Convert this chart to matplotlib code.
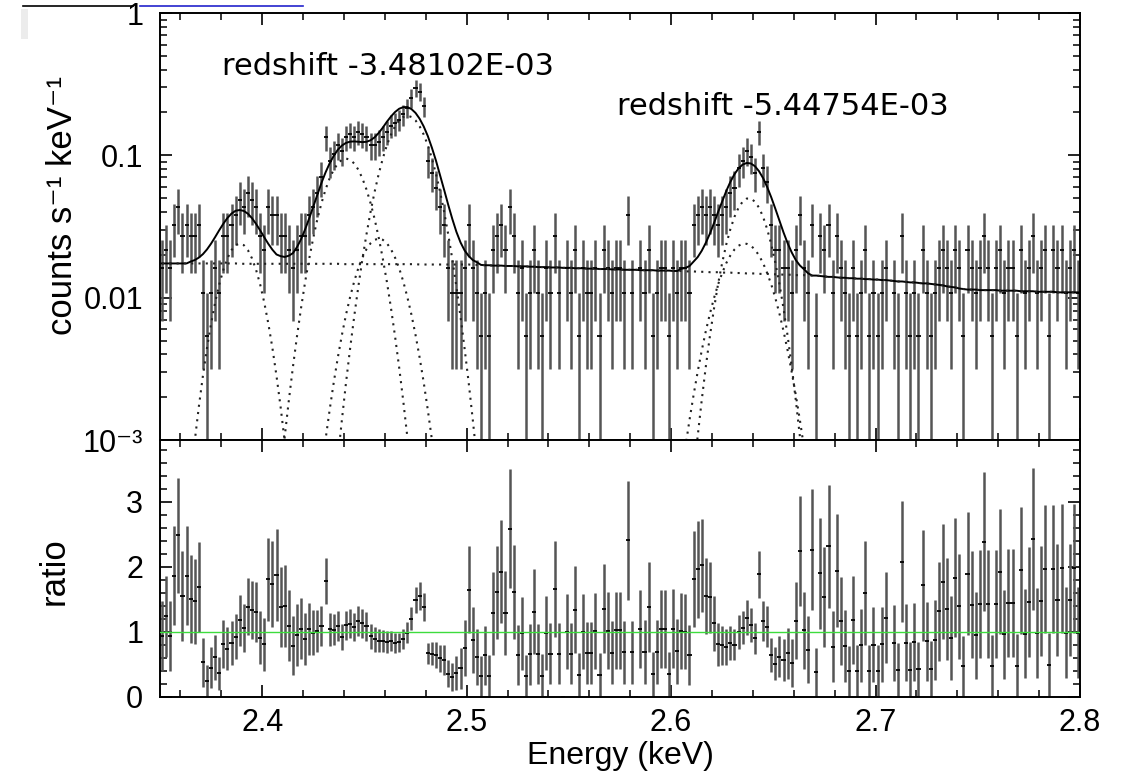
import numpy as np
import matplotlib
matplotlib.use("Agg")
import matplotlib.pyplot as plt
from matplotlib.ticker import MultipleLocator, FixedLocator, LogLocator, NullFormatter
from matplotlib.lines import Line2D
from matplotlib.patches import Rectangle

plt.rcParams['font.family'] = ['Liberation Sans', 'DejaVu Sans']

# binning of the spectrum (keV) and flux of a single count in a bin
e_start = 2.351
bin_width = 0.002
flux_per_count = 5.4e-3

# observed counts per bin
counts = [
    3, 4, 3, 6, 8, 5, 6, 5, 5, 6, 2, 1, 2, 3, 2, 5, 5, 6, 7, 9,
    8, 10, 9, 8, 5, 4, 8, 7, 7, 5, 5, 4, 3, 4, 5, 5, 7, 8, 10, 13,
    25, 17, 19, 22, 20, 25, 26, 25, 27, 26, 25, 22, 22, 23, 25, 27, 30, 31, 33, 36,
    40, 47, 55, 52, 41, 17, 14, 11, 8, 6, 3, 2, 2, 2, 3, 6, 3, 2,
    1, 2, 1, 4, 5, 6, 4, 8, 5,
    2, 3, 1, 2, 4, 2, 1, 3, 2, 5, 2, 0, 3, 2, 4, 1, 3, 2, 2, 3,
    1, 4, 3, 2, 3, 3, 2, 7, 2, 0, 3, 2, 4, 1, 2, 3, 3, 1,
    3, 2, 3, 3, 2, 6, 7, 8, 7, 8, 7, 6, 7, 8, 10, 11, 15, 17, 20, 18,
    14, 27, 15, 12, 6, 4, 4, 3, 3, 2, 4, 7, 3, 2, 6, 1,
    5, 4, 6, 2, 5, 3,
    2, 1, 3, 1, 2, 4, 1, 2, 1, 2, 3, 0, 2, 1, 5, 2, 1, 2, 1, 4, 2, 1, 2,
    3, 4, 3, 2, 4, 3, 1, 4, 3, 2, 3, 5, 3, 1, 3, 4, 2, 3, 3, 1,
    4, 2, 3, 5, 2, 3, 4, 1, 4, 3, 4, 2, 3, 4, 2,
]

# continuum model per bin (1e-3 counts s^-1 keV^-1)
continuum = [
    17.4, 17.4, 17.4, 17.4, 17.4, 17.4, 17.4, 17.4, 17.4, 17.4,
    17.4, 17.4, 17.4, 17.4, 17.4, 17.4, 17.4, 17.4, 17.4,
    17.3, 17.3, 17.3, 17.3, 17.3, 17.3, 17.3, 17.3, 17.3, 17.3,
    17.3, 17.3, 17.3, 17.3, 17.3, 17.3, 17.3, 17.3, 17.3, 17.3,
    17.3, 17.3, 17.3, 17.3, 17.3,
    17.2, 17.2, 17.2, 17.2, 17.2, 17.2, 17.2, 17.2, 17.2, 17.2,
    17.2, 17.2, 17.2, 17.2, 17.2, 17.2, 17.2, 17.2, 17.2,
    17.1, 17.1, 17.1, 17.1, 17.1, 17.1, 17.1, 17.1, 17.1, 17.1, 17.1, 17.1,
    17.1, 17.0, 17.0, 17.0, 16.9, 16.9, 16.8, 16.8, 16.8, 16.7,
    16.7, 16.7, 16.6, 16.6, 16.6, 16.5, 16.5, 16.4, 16.4, 16.4,
    16.3, 16.3, 16.3, 16.2, 16.2, 16.2, 16.1, 16.1, 16.1, 16.0,
    16.0, 16.0, 15.9, 15.9, 15.9, 15.8, 15.8, 15.8, 15.7, 15.7,
    15.7, 15.7, 15.6, 15.6, 15.6, 15.6, 15.5, 15.5, 15.5, 15.5,
    15.4, 15.4, 15.4, 15.3, 15.3, 15.3, 15.2, 15.2, 15.2, 15.1,
    15.1, 15.1, 15.0, 15.0, 15.0, 14.9, 14.9, 14.9, 14.8, 14.8,
    14.8, 14.7, 14.7, 14.7, 14.6, 14.6, 14.6, 14.5, 14.5, 14.5,
    14.4, 14.4, 14.4, 14.3, 14.3, 14.3,
    14.2, 14.1, 14.0, 14.0, 13.9, 13.8, 13.8, 13.7, 13.7, 13.6,
    13.6, 13.5, 13.5, 13.4, 13.4, 13.3, 13.3, 13.2, 13.1, 13.0,
    13.0, 12.9, 12.8, 12.8, 12.7, 12.6, 12.6, 12.5, 12.4, 12.3,
    12.2, 12.0, 11.9, 11.8, 11.6, 11.5, 11.4, 11.4, 11.4, 11.3,
    11.3, 11.3, 11.3, 11.3, 11.2, 11.2, 11.2, 11.2, 11.2, 11.1,
    11.1, 11.1, 11.1, 11.0, 11.0, 11.0, 11.0, 11.0, 10.9, 10.9,
    10.9, 10.9, 10.9, 10.9,
]

# gaussian line components (1e-3 counts s^-1 keV^-1), first bin index of each
line_a_first = 7
line_a = [0.53, 0.98, 1.71, 2.82, 4.43, 6.58, 9.27, 12.4, 15.7, 18.9, 21.6, 23.4, 24.0,
          23.4, 21.6, 18.9, 15.7, 12.4, 9.27, 6.58, 4.43, 2.82, 1.71, 0.98, 0.53]
line_b_first = 29
line_b = [0.57, 1.05, 1.88, 3.23, 5.33, 8.45, 12.9, 18.8, 26.4, 35.7, 46.2, 57.6, 69.0,
          79.4, 87.7, 93.1, 95.0, 93.1, 87.7, 79.4, 69.0, 57.6, 46.2, 35.7, 26.4, 18.8,
          12.9, 8.45, 5.33, 3.23, 1.88, 1.05, 0.57]
line_c_first = 39
line_c = [0.60, 1.01, 1.63, 2.54, 3.80, 5.48, 7.60, 10.1, 13.0, 16.1, 19.1, 21.9, 24.1,
          25.5, 26.0, 25.5, 24.1, 21.9, 19.1, 16.1, 13.0, 10.1, 7.60, 5.48, 3.80, 2.54,
          1.63, 1.01, 0.60]
line_d_first = 43
line_d = [0.74, 1.39, 2.53, 4.39, 7.37, 11.9, 18.6, 27.8, 40.1, 55.5, 74.1, 95.1, 118,
          140, 160, 176, 186, 190, 186, 176, 160, 140, 118, 95.1, 74.1, 55.5, 40.1, 27.8,
          18.6, 11.9, 7.37, 4.39, 2.53, 1.39, 0.74]
line_e_first = 130
line_e = [0.56, 1.06, 1.91, 3.29, 5.39, 8.40, 12.5, 17.6, 23.7, 30.3, 37.0, 42.9, 47.3,
          49.7, 49.7, 47.3, 42.9, 37.0, 30.3, 23.7, 17.6, 12.5, 8.40, 5.39, 3.29, 1.91,
          1.06, 0.56]
line_f_first = 127
line_f = [0.55, 0.89, 1.38, 2.07, 3.01, 4.26, 5.83, 7.73, 9.94, 12.4, 14.9, 17.5, 19.8,
          21.8, 23.2, 23.9, 23.9, 23.2, 21.8, 19.8, 17.5, 14.9, 12.4, 9.94, 7.73, 5.83,
          4.26, 3.01, 2.07, 1.38, 0.89, 0.55]

labels = ['redshift -3.48102E-03', 'redshift -5.44754E-03']

n = np.array(counts, dtype=float)
energy = e_start + bin_width * np.arange(len(n))
cont = np.array(continuum) * 1e-3

components = [(line_a_first, line_a), (line_b_first, line_b), (line_c_first, line_c),
              (line_d_first, line_d), (line_e_first, line_e), (line_f_first, line_f)]
model = cont.copy()
for first, comp in components:
    model[first:first + len(comp)] += np.array(comp) * 1e-3

flux = n * flux_per_count
err = np.sqrt(n) * flux_per_count
ratio = flux / model
ratio_err = err / model

fig = plt.figure(figsize=(11.21, 7.74), dpi=100)
ax1 = fig.add_axes([0.1427, 0.4315, 0.8207, 0.5517])
ax2 = fig.add_axes([0.1427, 0.0995, 0.8207, 0.3320], sharex=ax1)

bar_col = '#555555'
half = bin_width / 2
dots = (0, (1, 2.5))

# upper panel: data, model and components
m = n > 0
lo = np.maximum(flux[m] - err[m], 1e-4)
ax1.vlines(energy[m], lo, flux[m] + err[m], color=bar_col, lw=1.8)
ax1.hlines(flux[m], energy[m] - half, energy[m] + half, color='black', lw=1.3)
ax1.plot(energy, model, color='black', lw=1.4)
ax1.plot(energy, cont, color='#222222', lw=1.5, ls=dots)
for first, comp in components:
    ax1.plot(energy[first:first + len(comp)], np.array(comp) * 1e-3,
             color='#222222', lw=1.5, ls=dots)

ax1.set_xlim(2.35, 2.8)
ax1.set_yscale('log')
ax1.set_ylim(1e-3, 1.0)
ax1.yaxis.set_major_locator(FixedLocator([1e-3, 1e-2, 1e-1, 1]))
ax1.set_yticklabels(['10⁻³', '0.01', '0.1', '1'])
ax1.yaxis.set_minor_locator(LogLocator(base=10, subs=np.arange(2, 10)))
ax1.yaxis.set_minor_formatter(NullFormatter())
ax1.set_ylabel('counts s⁻¹ keV⁻¹', fontsize=25)
ax1.yaxis.set_label_coords(-0.088, 0.55)

ax1.text(2.3803, 0.369, labels[0], fontsize=22, family='DejaVu Sans', va='baseline')
ax1.text(2.5735, 0.192, labels[1], fontsize=22, family='DejaVu Sans', va='baseline')

# lower panel: data / model
lo_r = np.maximum(ratio - ratio_err, 0)
ax2.vlines(energy, lo_r, ratio + ratio_err, color=bar_col, lw=1.8)
ax2.hlines(ratio, energy - half, energy + half, color='black', lw=1.3)
ax2.axhline(1.0, color='#3ddc3d', lw=1.0, zorder=5)
ax2.set_ylim(0, 3.95)
ax2.yaxis.set_major_locator(MultipleLocator(1))
ax2.yaxis.set_minor_locator(MultipleLocator(0.2))
ax2.xaxis.set_major_locator(MultipleLocator(0.1))
ax2.xaxis.set_minor_locator(MultipleLocator(0.02))
ax2.set_ylabel('ratio', fontsize=25)
ax2.yaxis.set_label_coords(-0.097, 0.49)
ax2.set_xlabel('Energy (keV)', fontsize=23, labelpad=2)

for ax in (ax1, ax2):
    ax.tick_params(which='both', direction='in', top=True, right=True, labelsize=22)
    ax.tick_params(which='major', length=8.6, width=1.2)
    ax.tick_params(which='minor', length=5, width=1.1)
    ax.tick_params(axis='y', pad=12)
    ax.tick_params(axis='x', pad=8)
    for s in ax.spines.values():
        s.set_linewidth(1.4)
ax1.tick_params(labelbottom=False)

# stray marks along the top edge of the original image
fig.add_artist(Line2D([0.0205, 0.1186], [0.9922, 0.9922], color='black', lw=1.2))
fig.add_artist(Line2D([0.1249, 0.2703], [0.9922, 0.9922], color='#2222cc', lw=1.2))
fig.add_artist(Rectangle((0.019, 0.95), 0.006, 0.038, transform=fig.transFigure,
                         color='#ececec', lw=0))

fig.savefig('out.png', dpi=100)
